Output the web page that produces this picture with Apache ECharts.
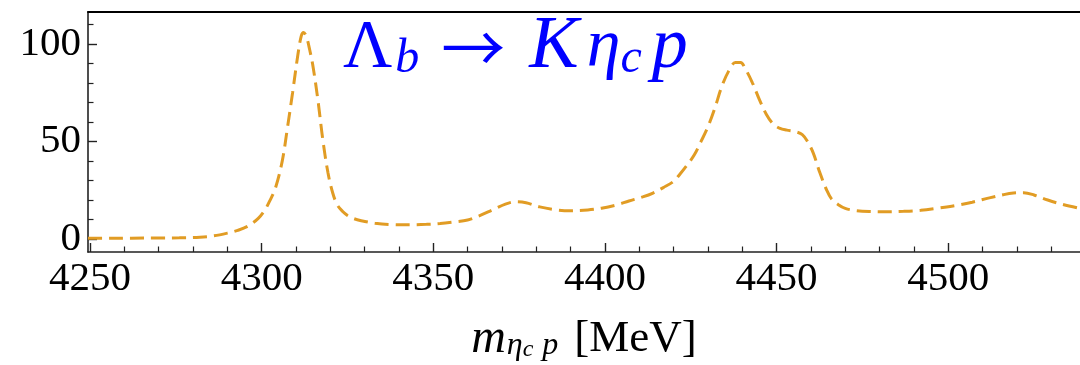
<!DOCTYPE html>
<html><head><meta charset="utf-8">
<script src="https://cdn.jsdelivr.net/npm/echarts@6/dist/echarts.min.js"></script>
<style>html,body{margin:0;padding:0;background:#fff}#c{width:1080px;height:365px}</style>
</head><body><div id="c"></div>
<script>
// invariant mass m(eta_c p) in MeV
const mass = [4249.4,4255,4262,4270,4276,4282,4286,4290,4293,4296,4299,4301,4302.5,4304,4306,4307.5,4309,4310.5,4311.5,4312.2,4313,4314,4315,4316.4,4317.8,4319.3,4320.7,4322,4323.6,4325,4326.6,4329,4333,4338,4343,4348,4352,4356,4360,4363,4367,4371,4374,4377,4381,4386,4390,4395,4399,4403,4407,4411,4414,4417,4420,4422,4424,4426,4428,4430,4432,4434,4436,4438,4439.5,4441,4443,4445,4447,4449,4451,4453,4455.5,4457.5,4459,4460.7,4462.6,4464.6,4466,4468,4470,4473,4477,4482,4487,4492,4497,4502,4507,4512,4516,4519,4522,4525,4529,4533,4538.4];
// distribution values
const rate = [0.2,0.2,0.3,0.4,0.5,0.8,1.5,2.9,4.3,6.5,10.5,15,20,26,40,57,75,94,104,106,104,97,88,71,51,34,23.5,17.5,14,12,10.5,9.3,8,7.3,7.2,7.4,7.8,8.6,9.6,11.5,14.6,17.8,19,18.5,16.4,14.8,14.4,14.8,15.7,17.2,19.4,21.5,23.5,26.3,29.5,33.5,38,43,50,57.5,67,78,86,90.5,90.5,87,80,71.5,64,59,56.7,55.8,55,53.5,50,44,34,25,20.5,17.5,15.6,14.5,14,13.9,14.1,14.6,15.7,17,18.8,21,22.6,23.5,23.7,22.5,19.9,17.8,15.6];
const xMajorTicks = [4250,4300,4350,4400,4450,4500];
const yMajorTicks = [0,50,100];
const xRange = [4249.4, 4538.4];
const yRange = [-6.8, 116.5];

const xMinorTicks = [];
for (let v = 4260; v < xRange[1]; v += 10) if (v % 50 !== 0) xMinorTicks.push(v);
const yMinorTicks = [];
for (let v = 10; v < yRange[1]; v += 10) if (v % 50 !== 0) yMinorTicks.push(v);

const serif = 'Liberation Serif';
const axisCol = '#222';
const blue = '#0000ff';
const chart = echarts.init(document.getElementById('c'), null, {renderer:'canvas'});
const baseAxis = (min, max) => ({type:'value', min, max, splitLine:{show:false}});
const plain = v => String(v);

chart.setOption({
  animation:false,
  backgroundColor:'#fff',
  grid:{left:88, right:0, top:12, bottom:113, containLabel:false, outerBoundsMode:'none'},
  xAxis:[
    Object.assign(baseAxis(xRange[0], xRange[1]), {
      position:'bottom',
      axisLine:{onZero:false, lineStyle:{color:axisCol, width:1.6}},
      axisTick:{inside:true, length:9, customValues:xMajorTicks, lineStyle:{color:axisCol, width:1.4}},
      axisLabel:{customValues:xMajorTicks, formatter:plain, fontFamily:serif, fontSize:41, color:'#000', margin:7},
      name:'{m|m}{s|η}{ss|c}{p|p}{t|[MeV]}',
      nameLocation:'middle', nameGap:64,
      nameTextStyle:{
        fontFamily:serif, color:'#000',
        rich:{
          m:{fontFamily:serif, fontStyle:'italic', fontSize:48, lineHeight:46, color:'#000'},
          s:{fontFamily:serif, fontStyle:'italic', fontSize:32, lineHeight:36, verticalAlign:'bottom', color:'#000', padding:[0,0,0,1]},
          ss:{fontFamily:serif, fontStyle:'italic', fontSize:24, lineHeight:22, verticalAlign:'bottom', color:'#000'},
          p:{fontFamily:serif, fontStyle:'italic', fontSize:32, lineHeight:36, verticalAlign:'bottom', color:'#000', padding:[0,0,0,9]},
          t:{fontFamily:serif, fontSize:45, lineHeight:46, color:'#000', padding:[0,0,0,16]}
        }
      }
    }),
    Object.assign(baseAxis(xRange[0], xRange[1]), {
      position:'bottom',
      axisLine:{show:false, onZero:false},
      axisTick:{inside:true, length:5.5, customValues:xMinorTicks, lineStyle:{color:axisCol, width:1.2}},
      axisLabel:{show:false}
    }),
    Object.assign(baseAxis(xRange[0], xRange[1]), {
      position:'top',
      axisLine:{onZero:false, lineStyle:{color:'#000', width:2}},
      axisTick:{show:false}, axisLabel:{show:false}
    })
  ],
  yAxis:[
    Object.assign(baseAxis(yRange[0], yRange[1]), {
      position:'left',
      axisLine:{show:true, onZero:false, lineStyle:{color:axisCol, width:1.6}},
      axisTick:{inside:true, length:9, customValues:yMajorTicks, lineStyle:{color:axisCol, width:1.4}},
      axisLabel:{customValues:yMajorTicks, formatter:plain, fontFamily:serif, fontSize:41, color:'#000', margin:7}
    }),
    Object.assign(baseAxis(yRange[0], yRange[1]), {
      position:'left',
      axisLine:{show:false, onZero:false},
      axisTick:{inside:true, length:5.5, customValues:yMinorTicks, lineStyle:{color:axisCol, width:1.2}},
      axisLabel:{show:false}
    })
  ],
  graphic:[{
    type:'text', left:343, top:11, z:10,
    style:{
      text:'{L|Λ}{sb|b}{a|→}{K|K}{e|η}{sc|c}{p|p}',
      fill:blue,
      rich:{
        L:{fontFamily:serif, fontSize:68, lineHeight:70, fill:blue},
        sb:{fontFamily:serif, fontStyle:'italic', fontSize:48, lineHeight:38, verticalAlign:'bottom', fill:blue, padding:[0,0,0,3]},
        a:{fontFamily:'Noto Sans CJK SC', fontSize:64, lineHeight:70, fill:blue, padding:[0,24,0,22]},
        K:{fontFamily:serif, fontStyle:'italic', fontSize:74, lineHeight:70, fill:blue},
        e:{fontFamily:serif, fontStyle:'italic', fontSize:68, lineHeight:70, fill:blue, padding:[0,0,0,8]},
        sc:{fontFamily:serif, fontStyle:'italic', fontSize:48, lineHeight:38, verticalAlign:'bottom', fill:blue},
        p:{fontFamily:serif, fontStyle:'italic', fontSize:72, lineHeight:70, fill:blue, padding:[0,0,0,10]}
      }
    }
  }],
  series:[{
    type:'line', xAxisIndex:0, yAxisIndex:0,
    data: mass.map((m, i) => [m, rate[i]]),
    showSymbol:false, smooth:0.35, clip:true,
    lineStyle:{color:'#E19C24', width:3, type:[14,7]}
  }]
});
</script>
</body></html>
